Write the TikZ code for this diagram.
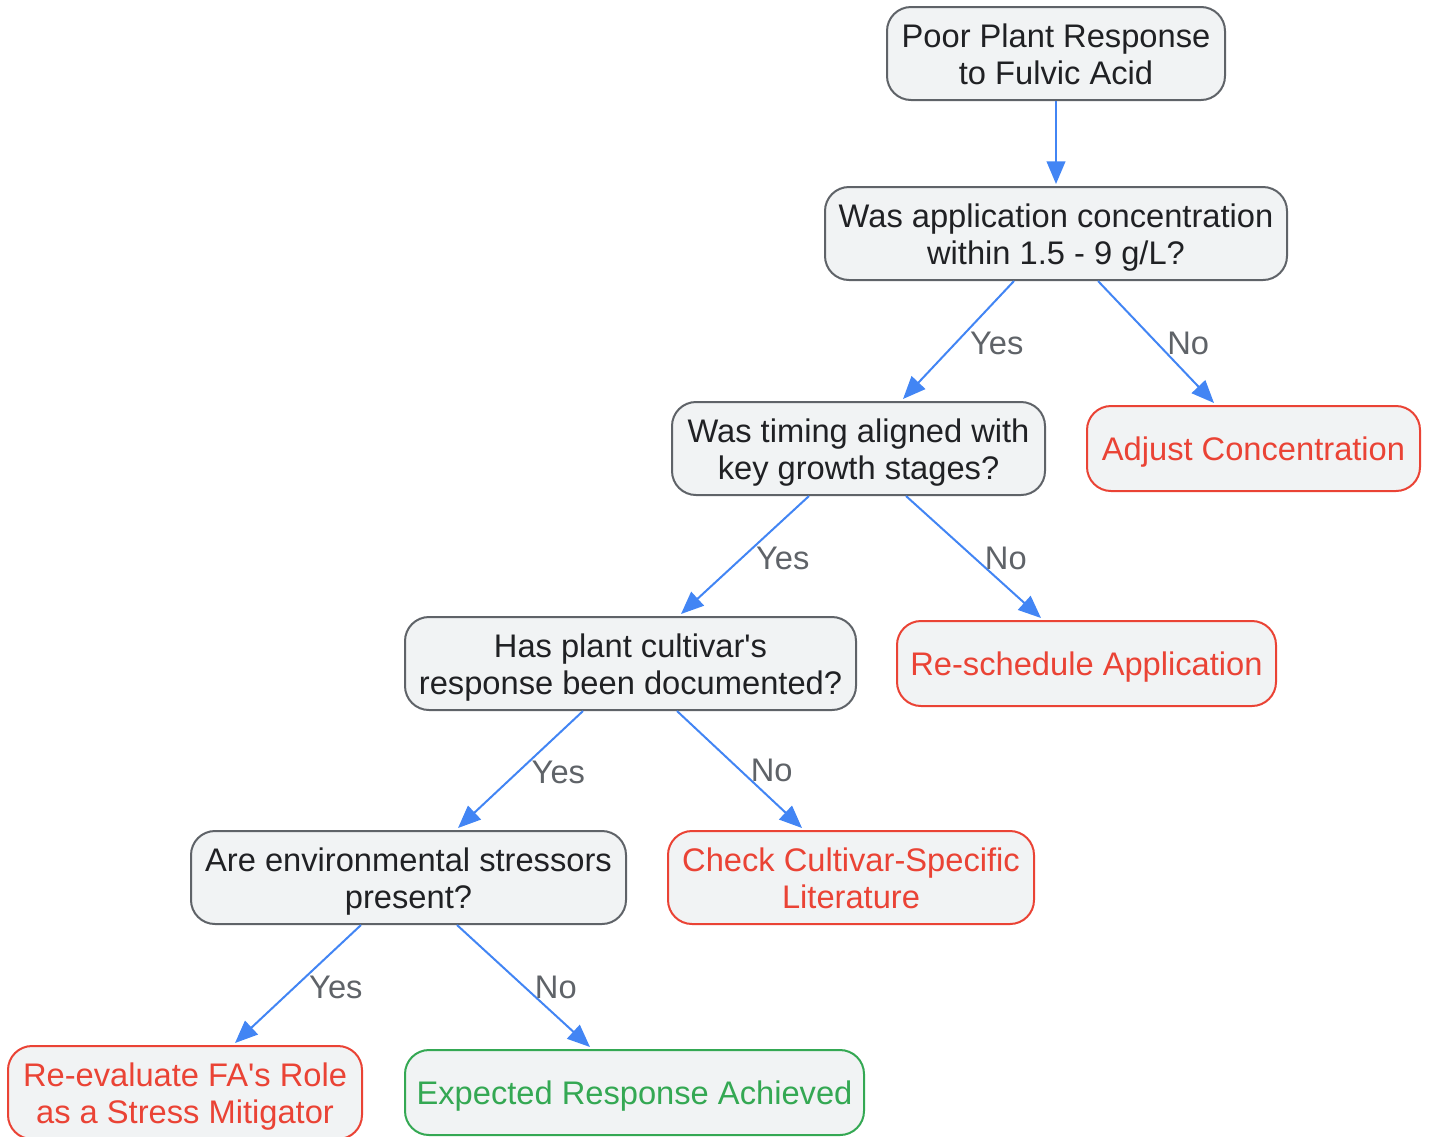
\documentclass[tikz,border=0pt]{standalone}
\usepackage{fontspec}
\setmainfont{Liberation Sans}
\usetikzlibrary{arrows.meta,calc}
\definecolor{edgeblue}{HTML}{4285F4}
\definecolor{bordergray}{HTML}{5F6368}
\definecolor{boxfill}{HTML}{F1F3F4}
\definecolor{textdark}{HTML}{202124}
\definecolor{lblgray}{HTML}{5F6368}
\definecolor{alertred}{HTML}{EA4335}
\definecolor{okgreen}{HTML}{34A853}
\begin{document}
\begin{tikzpicture}[x=0.75pt,y=-0.75pt,
  box/.style={draw=bordergray, fill=boxfill, rounded corners=18pt, line width=1.5pt,
    align=center, font=\fontsize{24.5}{27.75}\selectfont, text=textdark,
    inner sep=0pt, minimum height=69.75pt},
  twoline/.style={text height=48pt, text depth=2pt},
  oneline/.style={text height=20pt, text depth=1.7pt},
  redbox/.style={box, draw=alertred, text=alertred, minimum height=63.75pt},
  greenbox/.style={box, draw=okgreen, text=okgreen, minimum height=63.75pt},
  conn/.style={draw=edgeblue, line width=1.5pt, -{Triangle[length=17pt,width=14pt]}},
  lbl/.style={text=lblgray, font=\fontsize{24.5}{27.75}\selectfont, inner sep=0pt},
  yeslbl/.style={lbl, pos=0.525, xshift=30.75pt},
  nolbl/.style={lbl, pos=0.51, xshift=23.25pt}]
\useasboundingbox (0,0) rectangle (1430,1136);
\node[box, twoline, minimum width=253.5pt] (n1) at (1056,53.5) {Poor Plant Response\\to Fulvic Acid};
\node[box, twoline, minimum width=346.5pt] (n2) at (1056,233.5) {Was application concentration\\within 1.5 - 9 g/L?};
\node[box, twoline, minimum width=279.75pt] (n3) at (858.5,448.5) {Was timing aligned with\\key growth stages?};
\node[redbox, oneline, minimum width=249.75pt] (n4) at (1253.5,448.5) {Adjust Concentration};
\node[box, twoline, minimum width=338.25pt] (n5) at (630.5,663.5) {Has plant cultivar\textquotesingle s\\response been documented?};
\node[redbox, oneline, minimum width=284.25pt] (n6) at (1086.5,663.5) {Re-schedule Application};
\node[box, twoline, minimum width=326.25pt] (n7) at (408.5,877.5) {Are environmental stressors\\present?};
\node[redbox, twoline, minimum width=274.5pt, minimum height=69.75pt] (n8) at (851,877.5) {Check Cultivar-Specific\\Literature};
\node[redbox, twoline, minimum width=265.5pt, minimum height=69.75pt] (n9) at (185,1092.5) {Re-evaluate FA\textquotesingle s Role\\as a Stress Mitigator};
\node[greenbox, oneline, minimum width=344.25pt] (n10) at (634.5,1092.5) {Expected Response Achieved};

\draw[conn] (n1.south) -- ($(n2.north)+(0,-2)$);
\draw[conn] ($(n2.south)+(-42,0)$) -- node[yeslbl]{Yes} ($(n3.north)+(44.5,-2)$);
\draw[conn] ($(n2.south)+(42,0)$) -- node[nolbl]{No} ($(n4.north)+(-39.5,-2)$);
\draw[conn] ($(n3.south)+(-49.5,0)$) -- node[yeslbl]{Yes} ($(n5.north)+(50.5,-2)$);
\draw[conn] ($(n3.south)+(47.5,0)$) -- node[nolbl]{No} ($(n6.north)+(-45.5,-2)$);
\draw[conn] ($(n5.south)+(-47.5,0)$) -- node[yeslbl]{Yes} ($(n7.north)+(49.5,-2)$);
\draw[conn] ($(n5.south)+(46.5,0)$) -- node[nolbl]{No} ($(n8.north)+(-49,-2)$);
\draw[conn] ($(n7.south)+(-47.5,0)$) -- node[yeslbl]{Yes} ($(n9.north)+(50,-2)$);
\draw[conn] ($(n7.south)+(48.5,0)$) -- node[nolbl]{No} ($(n10.north)+(-44.5,-2)$);
\end{tikzpicture}
\end{document}
